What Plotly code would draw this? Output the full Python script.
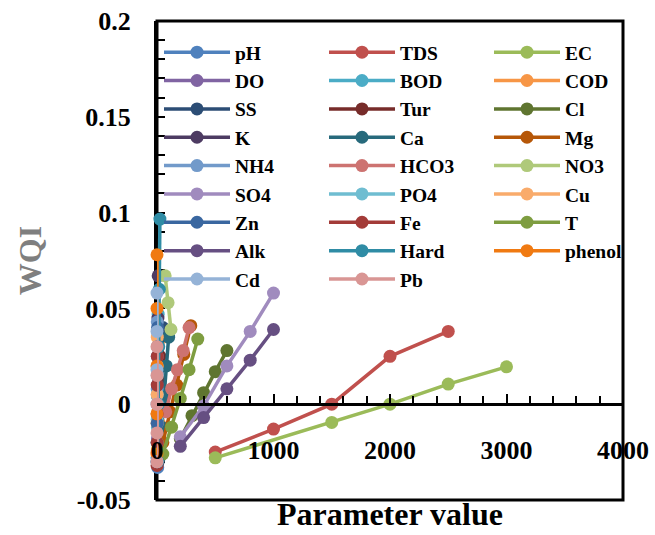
import plotly.graph_objects as go

# ---------------- data ----------------
NAMES = ["pH", "TDS", "EC", "DO", "BOD", "COD", "SS", "Tur", "Cl", "K", "Ca", "Mg",
         "NH4", "HCO3", "NO3", "SO4", "PO4", "Cu", "Zn", "Fe", "T", "Alk", "Hard",
         "phenol", "Cd", "Pb"]

pH_x = [6, 6.5, 7, 7.5, 8];            pH_y = [-0.033, -0.02, -0.008, 0.004, 0.016]
TDS_x = [500, 1000, 1500, 2000, 2500]; TDS_y = [-0.025, -0.013, 0.0, 0.025, 0.038]
EC_x = [500, 1500, 2000, 2500, 3000];  EC_y = [-0.028, -0.0095, 0.0, 0.0105, 0.0195]
DO_x = [2, 4, 6, 8, 10];               DO_y = [-0.03, -0.018, -0.007, 0.004, 0.014]
BOD_x = [2, 4, 6, 8, 10];              BOD_y = [-0.028, -0.012, 0.004, 0.02, 0.047]
COD_x = [10, 20, 30, 40, 50];          COD_y = [-0.024, -0.01, 0.005, 0.02, 0.035]
SS_x = [10, 20, 30, 40, 50];           SS_y = [-0.03, -0.015, 0.0, 0.02, 0.04]
Tur_x = [5, 10, 15, 20, 25];           Tur_y = [-0.03, -0.015, 0.0, 0.012, 0.025]
Cl_x = [200, 300, 400, 500, 600];      Cl_y = [-0.018, -0.006, 0.006, 0.017, 0.028]
K_x = [2, 4, 6, 8, 10];                K_y = [-0.02, 0.0, 0.02, 0.045, 0.067]
Ca_x = [20, 40, 60, 80, 100];          Ca_y = [-0.028, -0.012, 0.004, 0.02, 0.035]
Mg_x = [50, 110, 170, 230, 290];       Mg_y = [-0.02, -0.004, 0.01, 0.026, 0.041]
NH4_x = [0.5, 1, 1.5, 2, 2.5];         NH4_y = [-0.028, -0.01, 0.008, 0.025, 0.043]
HCO3_x = [75, 125, 175, 225, 275];     HCO3_y = [-0.004, 0.008, 0.018, 0.028, 0.04]
NO3_x = [70, 95, 120];                 NO3_y = [0.067, 0.053, 0.039]
SO4_x = [200, 400, 600, 800, 1000];    SO4_y = [-0.017, -0.001, 0.02, 0.038, 0.058]
PO4_x = [0.5, 1, 1.5, 2, 2.5];         PO4_y = [-0.03, -0.02, -0.008, 0.005, 0.015]
Cu_x = [0.5, 1, 1.5, 2, 2.5];          Cu_y = [-0.025, -0.01, 0.005, 0.02, 0.035]
Zn_x = [1, 2, 3, 4, 5];                Zn_y = [-0.03, -0.01, 0.01, 0.03, 0.04]
Fe_x = [0.5, 1, 1.5, 2, 2.5];          Fe_y = [-0.032, -0.02, -0.005, 0.01, 0.025]
T_x = [50, 125, 200, 275, 350];        T_y = [-0.026, -0.012, 0.003, 0.018, 0.034]
Alk_x = [200, 400, 600, 800, 1000];    Alk_y = [-0.022, -0.007, 0.008, 0.023, 0.039]
Hard_x = [5, 10, 15, 20, 25];          Hard_y = [-0.03, 0.0, 0.03, 0.06, 0.0966]
phenol_x = [0.001, 0.002, 0.003, 0.004, 0.005]; phenol_y = [-0.026, -0.005, 0.02, 0.05, 0.078]
Cd_x = [0.01, 0.02, 0.03, 0.04, 0.05]; Cd_y = [-0.03, 0.0, 0.018, 0.038, 0.058]
Pb_x = [0.01, 0.02, 0.03, 0.04, 0.05]; Pb_y = [-0.03, -0.015, 0.0, 0.015, 0.03]

SERIES = {
    "pH": (pH_x, pH_y), "TDS": (TDS_x, TDS_y), "EC": (EC_x, EC_y),
    "DO": (DO_x, DO_y), "BOD": (BOD_x, BOD_y), "COD": (COD_x, COD_y),
    "SS": (SS_x, SS_y), "Tur": (Tur_x, Tur_y), "Cl": (Cl_x, Cl_y),
    "K": (K_x, K_y), "Ca": (Ca_x, Ca_y), "Mg": (Mg_x, Mg_y),
    "NH4": (NH4_x, NH4_y), "HCO3": (HCO3_x, HCO3_y), "NO3": (NO3_x, NO3_y),
    "SO4": (SO4_x, SO4_y), "PO4": (PO4_x, PO4_y), "Cu": (Cu_x, Cu_y),
    "Zn": (Zn_x, Zn_y), "Fe": (Fe_x, Fe_y), "T": (T_x, T_y),
    "Alk": (Alk_x, Alk_y), "Hard": (Hard_x, Hard_y), "phenol": (phenol_x, phenol_y),
    "Cd": (Cd_x, Cd_y), "Pb": (Pb_x, Pb_y),
}

COLORS = ["#4F81BD", "#C0504D", "#9BBB59", "#8064A2", "#4BACC6", "#F79646",
          "#2C4D75", "#772C2A", "#5F7530", "#4D3B62", "#276A7C", "#B65708",
          "#729ACA", "#CD7371", "#AFC97A", "#A08BBE", "#6FBDD1", "#F9AB6B",
          "#3A67A0", "#A33B38", "#7E9D40", "#664F82", "#2F8CA5", "#F07A12",
          "#95B3D7", "#D99694"]

Y_TICKS = [-0.05, 0, 0.05, 0.1, 0.15, 0.2]
Y_TICK_TEXT = ["-0.05", "0", "0.05", "0.1", "0.15", "0.2"]
X_TICKS = [0, 1000, 2000, 3000, 4000]
X_TICK_TEXT = ["0", "1000", "2000", "3000", "4000"]

FONT = "Liberation Serif"

fig = go.Figure()
legend_ids = ["legend", "legend2", "legend3"]
for i, name in enumerate(NAMES):
    xs, ys = SERIES[name]
    fig.add_trace(go.Scatter(
        x=xs, y=ys, name=name, mode="lines+markers", cliponaxis=False,
        line=dict(color=COLORS[i], width=3.5),
        marker=dict(color=COLORS[i], size=13),
        legend=legend_ids[i % 3],
    ))

W, H = 655, 535
ML, MR, MT, MB = 157, 32, 21, 35
pw = W - ML - MR
ph = H - MT - MB


def leg(px_left):
    return dict(
        x=(px_left - ML) / pw, xanchor="left", y=1 - 12 / ph, yanchor="top",
        bgcolor="rgba(0,0,0,0)", borderwidth=0, itemwidth=66,
        font=dict(family=FONT, size=19.5, color="black", weight="bold"),
        tracegroupgap=0, traceorder="normal",
    )


fig.update_layout(
    width=W, height=H,
    margin=dict(l=ML, r=MR, t=MT, b=MB, autoexpand=False),
    paper_bgcolor="white", plot_bgcolor="white",
    showlegend=True,
    legend=leg(159), legend2=leg(324), legend3=leg(489),
    xaxis=dict(
        range=[0, 4000], tickmode="array", tickvals=X_TICKS, ticktext=X_TICK_TEXT,
        anchor="free", position=0.2, automargin=False,
        showline=True, linecolor="black", linewidth=3,
        ticks="inside", ticklen=9, tickwidth=2, tickcolor="black",
        minor=dict(dtick=200, ticks="inside", ticklen=7, tickwidth=2, tickcolor="black"),
        showgrid=False, zeroline=False,
        tickfont=dict(family=FONT, size=26, color="black", weight="bold"),
        ticklabelstandoff=22,
        title=dict(text="Parameter value", standoff=38,
                   font=dict(family=FONT, size=32, color="black", weight="bold")),
    ),
    yaxis=dict(
        range=[-0.05, 0.2], tickmode="array", tickvals=Y_TICKS, ticktext=Y_TICK_TEXT,
        showline=True, linecolor="black", linewidth=3, layer="below traces",
        automargin=False,
        ticks="inside", ticklen=8, tickwidth=2, tickcolor="black",
        minor=dict(dtick=0.01, ticks="inside", ticklen=8, tickwidth=2, tickcolor="black"),
        showgrid=False, zeroline=False,
        tickfont=dict(family=FONT, size=26, color="black", weight="bold"),
        ticklabelstandoff=18,
        title=dict(text="WQI", standoff=26,
                   font=dict(family=FONT, size=32, color="#7F7F7F", weight="bold")),
    ),
    shapes=[dict(type="rect", xref="paper", yref="paper", x0=0, x1=1, y0=0, y1=1,
                 line=dict(color="black", width=3), layer="below")],
)

fig.write_html("out.html")
